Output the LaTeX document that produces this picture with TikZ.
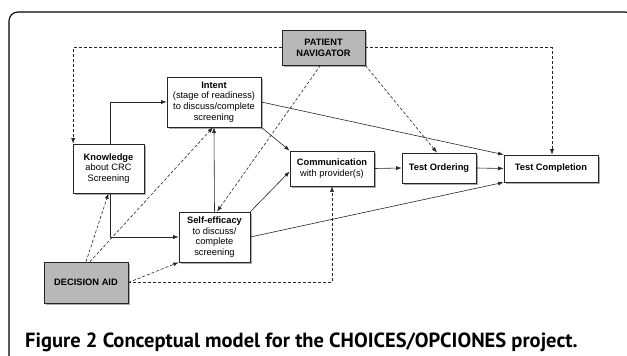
\documentclass[tikz,border=0pt]{standalone}
\usepackage{fontspec}
\setmainfont{Liberation Sans}
\newfontfamily\capfont{PT Sans}
\usetikzlibrary{shadows,arrows.meta}

\begin{document}
\begin{tikzpicture}[x=1pt, y=-1pt, >={Latex[length=5.5pt,width=4pt]},
        box/.style={draw=black!85, line width=0.7pt, fill=white, align=center,
            font=\fontsize{9.3}{10.7}\selectfont, inner sep=1pt,
            drop shadow={shadow xshift=2pt, shadow yshift=-2pt, opacity=0.65}},
        graybox/.style={box, fill=black!28},
        link/.style={->, line width=0.6pt, black!85},
        dlink/.style={link, dash pattern=on 3pt off 2pt}]
        \useasboundingbox (0,0) rectangle (627,356);
        \clip (0,0) rectangle (627,356);
        \fill[white] (0,0) rectangle (627,356);
        \draw[line width=1.1pt, rounded corners=9pt] (9,400) -- (9,12) -- (634,12) -- (634,400);

        % factors
        \node[graybox, minimum width=83pt, minimum height=35pt] (nav) at (323.5,47.5) {\textbf{PATIENT}\\\textbf{NAVIGATOR}};
        \node[box, minimum width=94pt, minimum height=50pt] (intent) at (214,102) {\textbf{Intent}\\(stage of readiness)\\to discuss/complete\\screening};
        \node[box, minimum width=71pt, minimum height=49pt] (know) at (108.5,168.5) {\textbf{Knowledge}\\about CRC\\Screening};
        \node[box, minimum width=71pt, minimum height=50pt] (self) at (214.5,237) {\textbf{Self-efficacy}\\to discuss/\\complete\\screening};
        \node[graybox, minimum width=84pt, minimum height=41pt] (aid) at (86,282.5) {\textbf{DECISION AID}};
        \node[box, minimum width=84pt, minimum height=35pt] (comm) at (332,168.5) {\textbf{Communication}\\with provider(s)};
        \node[box, minimum width=74pt, minimum height=30pt] (order) at (439,168) {\textbf{Test Ordering}};
        \node[box, minimum width=94pt, minimum height=27pt] (compl) at (551,168.5) {\textbf{Test Completion}};

        % solid paths
        \draw[link] ([xshift=1.5pt]know.north) |- (intent.west);
        \draw[link] ([xshift=1.5pt]know.south) |- (self.west);
        \draw[link] (self.north) -- (intent.south);
        \draw[link] (intent.south east) -- (comm.north west);
        \draw[link] (intent.east) -- (compl.north west);
        \draw[link] (self.north east) -- ([yshift=-3pt]comm.west);
        \draw[link] (self.east) -- (compl.south west);
        \draw[link] (comm.east) -- (order.west);
        \draw[link] (order.east) -- (compl.west);

        % dashed paths
        \draw[dlink] (nav.west) -| ([xshift=0.5pt]know.north west);
        \draw[dlink] (nav.east) -| ([xshift=1pt]compl.north);
        \draw[dlink] (nav.south east) -- ([xshift=-2pt]order.north);
        \draw[dlink] ([xshift=-3pt]nav.south) -- ([xshift=2.5pt]self.north);
        \draw[dlink] (aid.north) -- (know.south);
        \draw[dlink] ([xshift=4pt]aid.north) -- ([xshift=-1pt]intent.south);
        \draw[dlink] (aid.east) -- (self.south west);
        \draw[dlink] (aid.east) -| (comm.south);

        \node[anchor=base west, font=\capfont\bfseries\fontsize{20.5}{23}\selectfont, inner sep=0pt] (caption) at (25,347)
            {Figure 2 Conceptual model for the CHOICES/OPCIONES project.};
\end{tikzpicture}
\end{document}
